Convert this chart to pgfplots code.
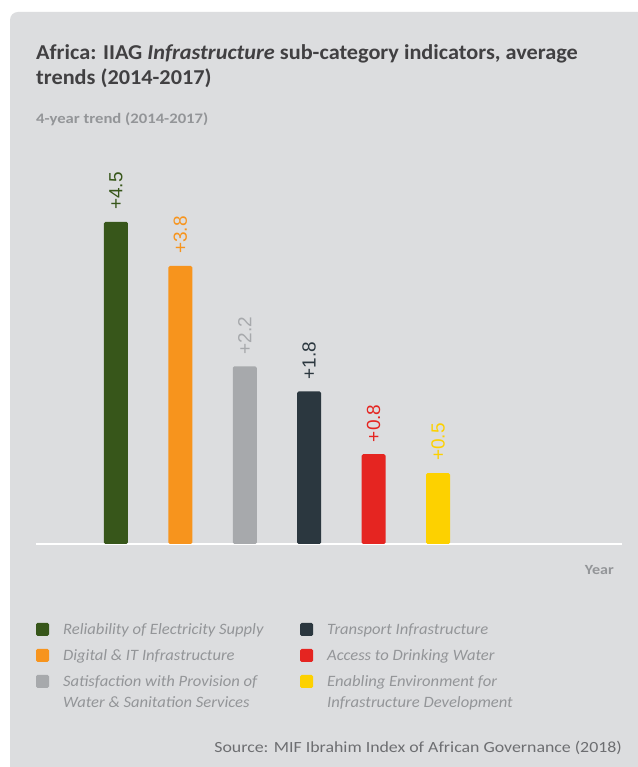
\documentclass[border=0pt]{standalone}
\usepackage{pgfplots}
\pgfplotsset{compat=1.18}
\usepackage{fontspec}
\setmainfont{Carlito}
\newfontfamily\lab{Liberation Sans}
\newfontfamily\wideA[FakeStretch=1.05]{Carlito}
\newfontfamily\wideB[FakeStretch=1.15]{Carlito}
\definecolor{bg}{HTML}{DCDDDF}
\definecolor{cgreen}{HTML}{37561A}
\definecolor{corange}{HTML}{F7941D}
\definecolor{cgrey}{HTML}{A7A9AC}
\definecolor{cdark}{HTML}{2B373F}
\definecolor{cred}{HTML}{E52521}
\definecolor{cyellow}{HTML}{FDD100}
\definecolor{titlec}{HTML}{414042}
\definecolor{subc}{HTML}{939598}
\definecolor{legc}{HTML}{939598}
\definecolor{srcc}{HTML}{6D6E71}
\begin{document}
\begin{tikzpicture}[x=1bp,y=1bp]
\path[use as bounding box] (0,0) rectangle (638,767);
\fill[white] (0,0) rectangle (638,767);
\fill[bg, rounded corners=8bp] (10,-20) rectangle (660,755);
% title
\node[anchor=base west, inner sep=0, text=titlec, font=\wideA\fontsize{21.2bp}{25bp}\selectfont\bfseries] at (36,767-60) {Africa: IIAG \textit{Infrastructure} sub-category indicators, average};
\node[anchor=base west, inner sep=0, text=titlec, font=\wideA\fontsize{21.2bp}{25bp}\selectfont\bfseries] at (36,767-85) {trends (2014-2017)};
\node[anchor=base west, inner sep=0, text=subc, font=\wideB\fontsize{14.5bp}{15bp}\selectfont\bfseries] at (36,767-124) {4-year trend (2014-2017)};
\begin{axis}[
  at={(36bp,223bp)}, anchor=south west,
  scale only axis, width=586bp, height=408bp,
  xmin=-0.242, xmax=8.857, ymin=0, ymax=6.5,
  axis x line=bottom, axis y line=none,
  x axis line style={white, line width=2bp, -},
  xtick=\empty, ytick=\empty,
  clip=false,
  y filter/.expression={y+0.63},
  point meta=rawy,
  ybar, bar width=24bp, bar shift=0pt,
  /pgf/number format/assume math mode=true,
  nodes near coords={\lab\fontsize{19bp}{19bp}\selectfont +\pgfmathprintnumber[fixed,precision=1,fixed zerofill]{\pgfplotspointmeta}},
  every node near coord/.append style={rotate=90, anchor=west, inner xsep=12bp, inner ysep=0pt},
]
\addplot[fill=cgreen, draw=none, color=cgreen, rounded corners=1.5bp] coordinates {(1,4.5)};
\addplot[fill=corange, draw=none, color=corange, rounded corners=1.5bp] coordinates {(2,3.8)};
\addplot[fill=cgrey, draw=none, color=cgrey, rounded corners=1.5bp] coordinates {(3,2.2)};
\addplot[fill=cdark, draw=none, color=cdark, rounded corners=1.5bp] coordinates {(4,1.8)};
\addplot[fill=cred, draw=none, color=cred, rounded corners=1.5bp] coordinates {(5,0.8)};
\addplot[fill=cyellow, draw=none, color=cyellow, rounded corners=1.5bp] coordinates {(6,0.5)};
\end{axis}
\node[anchor=base east, inner sep=0, text=legc, font=\wideB\fontsize{14bp}{15bp}\selectfont\bfseries] at (614,767-575) {Year};
% legend
\begin{scope}[every node/.style={anchor=base west, inner sep=0, text=legc, font=\wideA\fontsize{15.8bp}{20.5bp}\selectfont\itshape, align=left}]
\fill[cgreen, rounded corners=1.5bp] (36,767-636) rectangle +(13,13);
\node at (63,767-635) {Reliability of Electricity Supply};
\fill[corange, rounded corners=1.5bp] (36,767-662) rectangle +(13,13);
\node at (63,767-661) {Digital \& IT Infrastructure};
\fill[cgrey, rounded corners=1.5bp] (36,767-688) rectangle +(13,13);
\node at (63,767-687) {Satisfaction with Provision of};
\node at (63,767-708) {Water \& Sanitation Services};
\fill[cdark, rounded corners=1.5bp] (300,767-636) rectangle +(13,13);
\node at (327,767-635) {Transport Infrastructure};
\fill[cred, rounded corners=1.5bp] (300,767-662) rectangle +(13,13);
\node at (327,767-661) {Access to Drinking Water};
\fill[cyellow, rounded corners=1.5bp] (300,767-688) rectangle +(13,13);
\node at (327,767-687) {Enabling Environment for};
\node at (327,767-708) {Infrastructure Development};
\end{scope}
\node[anchor=base east, inner sep=0, text=srcc, font=\wideB\fontsize{15.5bp}{17bp}\selectfont] at (622,767-753) {Source: MIF Ibrahim Index of African Governance (2018)};
\end{tikzpicture}
\end{document}
